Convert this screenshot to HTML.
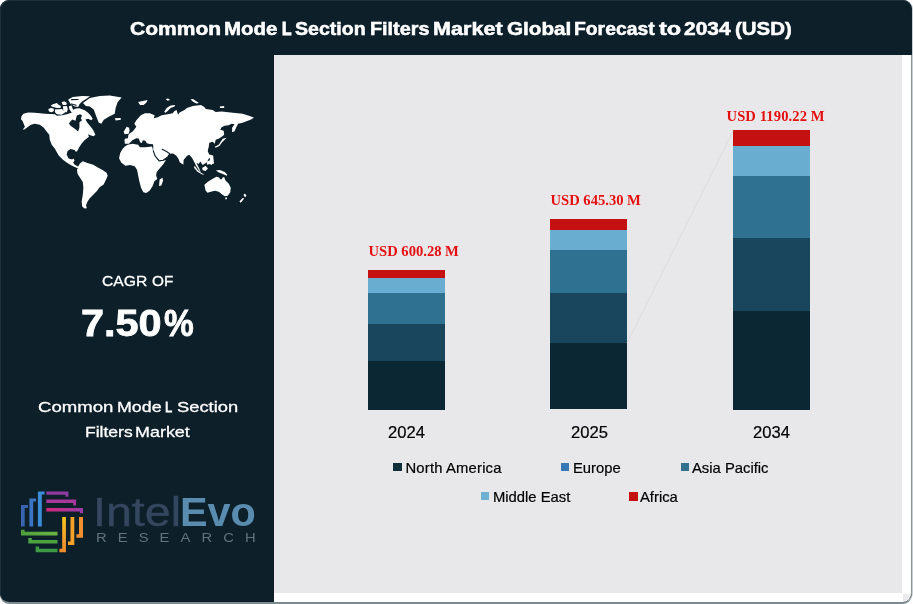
<!DOCTYPE html>
<html lang="en">
<head>
<meta charset="utf-8">
<title>Common Mode L Section Filters Market Global Forecast to 2034 (USD)</title>
<style>
html,body{margin:0;padding:0;background:#fff;}
body{width:913px;height:604px;position:relative;overflow:hidden;font-family:"Liberation Sans",sans-serif;}
#card{position:absolute;left:0;top:0;width:912px;height:602px;box-sizing:border-box;background:#0d1f29;border-radius:9px;box-shadow:inset 1px 1px 0 #1c313a, 1px 0 0 #c8cfd4, 0 2px 0 #7c8b8f;overflow:visible;}
#white{position:absolute;left:274px;top:54.5px;width:638px;height:547.5px;box-sizing:border-box;background:#fff;border-right:1px solid #8e9394;border-bottom-right-radius:9px;}
#nub{position:absolute;left:903px;top:594px;width:6px;height:7px;background:#ebebed;border-bottom-right-radius:5px;}
#plot{position:absolute;left:274px;top:54.8px;width:628.2px;height:538.6px;background:#e8e8ea;}
.t{position:absolute;white-space:nowrap;line-height:1;margin:0;}
.w{position:absolute;white-space:nowrap;line-height:1;transform-origin:0 50%;color:#fff;}
#title .w{font-weight:bold;font-size:17.5px;-webkit-text-stroke:.5px #fff;}
#cagr .w{font-size:15.4px;-webkit-text-stroke:.3px #fff;}
#pct .w{font-weight:bold;font-size:37.5px;-webkit-text-stroke:.8px #fff;}
#intel .w{font-size:40px;color:#34475f;-webkit-text-stroke:.4px #34475f;}
#evo .w{font-size:40px;font-weight:bold;color:#5a8caf;}
#research .w{font-size:13.4px;color:#63727d;}
#nm1 .w,#nm2 .w{font-size:15px;-webkit-text-stroke:.3px #fff;}
.seg{position:absolute;}
.val{color:#e60f0f;font-family:"Liberation Serif",serif;font-weight:bold;font-size:14.6px;}
.yr{color:#000;font-size:16.6px;-webkit-text-stroke:.2px #000;}
.lg{color:#000;font-size:14.8px;-webkit-text-stroke:.2px #000;}
.sw{position:absolute;width:8.3px;height:8.5px;}
</style>
</head>
<body>
<div id="card">
  <div id="white"></div>
  <div id="plot"></div>
  <div id="nub"></div>
</div>
<svg id="map" style="position:absolute;left:0;top:0" width="913" height="604" viewBox="0 0 913 604">
  <path d="M21.45 116.35 L23.44 113.87 L27.91 112.38 L34.86 112.87 L44.79 113.87 L54.93 114.19 L56.92 115.85 L62.22 115.19 L66.85 114.19 L71.49 112.87 L73.48 109.56 L76.13 108.56 L79.44 108.23 L84.74 110.22 L88.05 112.87 L90.7 115.52 L92.68 118.83 L91.36 120.15 L88.05 118.83 L85.4 119.49 L87.38 122.8 L91.36 127.44 L95.33 133.0 L92.46 129.76 L94.44 132.74 L95.44 134.72 L93.45 136.21 L90.47 135.22 L87.99 134.23 L88.98 136.71 L84.51 140.18 L81.53 143.66 L79.55 146.64 L77.56 150.61 L76.07 152.1 L74.58 150.11 L70.61 149.12 L67.63 151.11 L66.64 154.58 L68.62 158.56 L72.1 159.55 L73.59 158.56 L74.58 160.54 L73.09 162.53 L74.58 164.51 L77.07 166.0 L79.55 167.49 L78.56 168.49 L74.58 167.0 L70.61 165.01 L66.64 162.53 L62.67 159.55 L58.69 155.58 L54.72 148.62 L51.74 144.65 L49.76 139.69 L49.26 134.72 L46.78 131.74 L43.8 127.77 L39.83 124.79 L34.86 123.8 L30.89 124.79 L23.94 129.76 L22.94 129.26 L24.93 126.78 L22.45 120.82 L20.96 119.33Z M48.31 108.89 L50.96 107.9 L53.61 108.56 L53.94 110.88 L51.62 112.21 L48.97 111.54Z M50.96 105.25 L53.61 103.93 L56.92 102.93 L58.25 104.59 L60.89 105.91 L60.56 107.9 L56.92 107.9 L54.27 107.24 L51.62 106.58Z M61.56 102.27 L64.21 101.28 L66.85 102.93 L66.19 104.92 L62.88 104.92Z M62.88 106.25 L66.85 105.91 L67.85 108.89 L66.85 112.21 L64.21 112.21 L63.21 109.56Z M54.93 109.56 L62.22 108.89 L64.87 112.87 L61.56 114.85 L56.92 114.19 L54.93 112.21Z M68.84 106.25 L71.49 105.58 L72.81 108.89 L74.14 112.87 L71.49 112.21 L69.5 109.56Z M68.18 99.62 L72.81 96.97 L82.09 95.98 L90.03 96.31 L86.06 98.96 L82.09 101.61 L79.44 104.26 L78.11 106.91 L74.14 106.25 L70.17 103.6Z M82.94 102.91 L89.9 97.94 L99.83 95.96 L109.76 95.46 L121.67 97.45 L117.7 101.92 L115.71 107.87 L114.72 113.83 L108.76 116.81 L103.8 119.79 L101.32 123.76 L98.83 122.77 L96.35 116.81 L93.87 109.86 L89.9 106.39 L85.92 105.89Z M114.72 118.3 L120.68 118.0 L120.88 119.79 L115.71 120.59Z M138.06 101.92 L147.49 99.93 L146.5 102.41 L143.52 104.9 L140.04 104.9Z M123.66 131.71 L126.64 126.74 L129.12 127.74 L129.62 130.71 L128.62 133.69 L124.65 134.19Z M79.9 163.53 L82.8 161.22 L87.43 162.95 L93.23 164.69 L97.86 167.59 L102.49 169.9 L106.55 172.8 L107.7 175.7 L105.97 179.75 L103.65 184.38 L99.6 187.28 L96.7 191.33 L93.23 194.81 L89.75 198.28 L87.43 201.76 L86.04 205.23 L86.85 208.13 L84.54 208.48 L82.22 206.39 L81.64 201.76 L82.8 194.81 L83.38 187.86 L82.8 182.07 L79.9 177.43 L77.59 173.96 L77.01 169.9 L78.17 166.43Z M124.85 146.58 L127.74 144.85 L132.38 143.69 L138.17 144.85 L139.9 147.16 L145.12 147.16 L152.07 146.58 L153.23 151.22 L154.96 155.85 L157.86 159.9 L161.33 161.06 L165.97 159.9 L163.07 164.54 L159.6 168.59 L156.7 172.07 L156.12 175.54 L157.28 179.02 L154.38 181.33 L152.65 185.97 L149.75 190.6 L146.28 192.92 L143.38 192.34 L141.06 187.7 L139.33 181.33 L138.17 175.54 L137.01 169.75 L134.69 166.28 L130.06 165.12 L125.43 165.7 L121.37 162.8 L119.05 158.17 L120.21 152.95 L122.53 148.9Z M159.6 179.6 L162.49 177.86 L163.07 180.75 L161.33 185.39 L159.02 185.97Z M204.43 184.79 L207.91 181.81 L211.88 179.33 L216.35 176.85 L218.83 177.34 L220.32 179.33 L221.81 179.33 L222.81 177.34 L224.29 177.34 L225.29 180.32 L228.76 183.8 L230.75 187.77 L230.25 192.24 L227.77 195.71 L224.79 196.21 L221.81 194.23 L218.83 191.74 L214.86 190.75 L210.89 191.74 L207.41 192.74 L205.43 190.25Z M225.29 197.5 L226.98 197.5 L226.98 199.19 L225.29 199.19Z M243.66 194.23 L245.15 193.73 L246.44 195.71 L245.15 197.2 L243.86 195.71Z M239.49 201.18 L242.67 197.9 L244.16 198.5 L241.67 201.67 L240.18 202.67Z M215.85 170.39 L219.83 169.9 L224.79 171.88 L227.27 174.86 L226.78 175.85 L223.3 174.36 L218.83 172.38Z M124.43 140.18 L124.93 138.69 L127.91 138.2 L128.41 134.72 L129.9 133.23 L132.38 131.74 L134.86 128.76 L136.35 126.78 L134.36 123.8 L136.35 120.32 L140.82 115.36 L144.79 113.37 L149.76 113.37 L154.72 115.36 L153.73 118.34 L157.7 117.34 L161.67 115.36 L167.63 114.36 L172.6 113.37 L174.58 110.89 L176.57 109.9 L178.06 114.86 L179.55 112.38 L184.51 109.9 L186.92 107.91 L192.87 105.92 L200.82 104.93 L204.29 106.92 L205.78 108.9 L212.74 109.9 L215.71 111.88 L221.67 111.39 L230.61 112.38 L242.53 113.87 L250.47 116.35 L253.95 117.84 L250.47 119.83 L246.5 121.32 L242.53 122.81 L238.06 123.8 L236.07 127.77 L234.58 131.25 L232.1 132.24 L232.1 127.77 L234.58 124.29 L231.6 123.8 L228.62 125.29 L224.65 125.78 L221.67 127.27 L220.18 129.76 L223.66 130.75 L224.16 134.72 L221.67 136.71 L218.69 138.69 L215.71 139.69 L214.72 143.66 L212.74 141.67 L209.26 142.67 L208.76 146.64 L207.77 150.61 L205.78 153.59 L204.79 154.98 L204.44 154.69 L200.39 156.43 L200.97 160.48 L198.65 163.96 L196.33 162.8 L199.23 168.59 L200.97 172.65 L198.65 169.75 L196.33 166.28 L194.6 162.8 L192.28 158.17 L189.38 154.69 L187.07 155.85 L183.59 159.9 L183.38 164.8 L179.74 162.15 L178.41 158.84 L176.09 155.53 L173.11 153.54 L169.47 153.87 L167.81 156.85 L163.18 160.3 L159.21 160.83 L155.23 156.19 L153.25 150.89 L153.25 145.6 L152.99 144.27 L149.75 144.04 L146.85 143.34 L145.35 140.79 L142.8 140.21 L141.87 143.11 L140.25 142.53 L138.75 138.48 L136.43 138.24 L132.38 140.21 L128.9 143.69 L124.85 143.69 L124.5 140.21Z M214.72 146.64 L218.69 144.65 L220.68 141.67 L222.67 138.69 L226.64 137.7 L224.65 139.69 L221.67 142.67 L219.69 145.65 L215.71 147.63Z M164.16 111.88 L166.64 107.91 L170.61 105.43 L175.08 104.93 L174.58 106.42 L170.61 107.91 L167.63 110.89 L165.65 112.87Z M165.65 98.97 L168.13 98.48 L170.11 99.97 L167.63 100.76Z M190.47 99.47 L192.95 98.97 L198.91 102.94 L196.43 103.44 L193.45 101.95Z M219.69 106.42 L224.16 106.12 L224.16 107.91 L220.18 108.11Z M206.76 161.64 L210.23 159.9 L212.55 162.22 L211.97 165.12 L209.08 163.96 L207.34 165.12Z M202.13 168.01 L205.6 165.7 L207.92 168.59 L205.6 170.91 L202.7 170.33Z M194.6 165.7 L197.49 169.75 L200.97 172.65 L204.44 174.38 L202.13 174.62 L197.49 171.84 L194.02 167.67Z M198.68 152.62 L207.62 150.63 L210.0 156.59 L206.63 162.55 L202.65 164.94 L199.67 160.57Z M209.21 154.61 L213.18 155.6 L213.98 163.55 L210.6 164.54Z" fill="#fff"/>
  <path d="M68.84 123.46 L72.15 119.49 L75.46 120.81 L76.79 115.52 L80.1 114.19 L82.09 115.52 L80.76 118.17 L82.09 120.15 L79.44 122.14 L79.44 127.44 L78.11 131.41 L74.8 128.76 L70.83 126.11Z" fill="#0d1f29"/>
  <path d="M71.49 99.62 L78.11 99.49" fill="none" stroke="#0d1f29" stroke-width="1.1" stroke-linecap="round" stroke-linejoin="round"/><path d="M71.49 103.93 L76.13 105.25" fill="none" stroke="#0d1f29" stroke-width="1.1" stroke-linecap="round" stroke-linejoin="round"/><path d="M153.25 150.89 L155.23 156.19 L159.21 160.83 L163.18 160.3 L167.81 156.85 L169.47 154.21" fill="none" stroke="#0d1f29" stroke-width="1.1" stroke-linecap="round" stroke-linejoin="round"/><path d="M162.19 149.24 L166.49 151.56 L169.47 153.41" fill="none" stroke="#0d1f29" stroke-width="1.1" stroke-linecap="round" stroke-linejoin="round"/>
</svg>

<!-- sidebar text -->
<div id="cagr"><span class="w" style="left:102.19px;top:273.00px;transform:scaleX(1.0186);">CAGR</span> <span class="w" style="left:151.70px;top:273.00px;transform:scaleX(0.9950);">OF</span></div>
<div id="pct"><span class="w" style="left:81.00px;top:305.00px;transform:scaleX(1.1048);">7.50</span><span class="w" style="left:163.62px;top:305.00px;transform:scaleX(0.8921);">%</span></div>
<div id="nm1"><span class="w" style="left:37.62px;top:399.00px;transform:scaleX(1.2381);">Common</span> <span class="w" style="left:117.37px;top:399.00px;transform:scaleX(1.1874);">Mode</span> <span class="w" style="left:165.22px;top:399.00px;transform:scaleX(0.8604);-webkit-text-stroke:.8px #fff;">L</span> <span class="w" style="left:176.73px;top:399.00px;transform:scaleX(1.2207);">Section</span></div>
<div id="nm2"><span class="w" style="left:84.59px;top:424.00px;transform:scaleX(1.1667);">Filters</span> <span class="w" style="left:134.66px;top:424.00px;transform:scaleX(1.1955);">Market</span></div>

<!-- logo -->
<svg id="logo" style="position:absolute;left:0;top:0" width="913" height="604" viewBox="0 0 913 604">
  <defs>
    <linearGradient id="gy" x1="0" y1="0" x2="0" y2="1"><stop offset="0" stop-color="#f8c620"/><stop offset="1" stop-color="#f08a2e"/></linearGradient>
    <linearGradient id="gp" x1="0" y1="0" x2="1" y2="0"><stop offset="0" stop-color="#d02a7c"/><stop offset="1" stop-color="#9a3aa8"/></linearGradient>
    <linearGradient id="gg" x1="0" y1="0" x2="1" y2="0"><stop offset="0" stop-color="#4ea03c"/><stop offset="1" stop-color="#6ab344"/></linearGradient>
  </defs>
  <!-- blue -->
  <path d="M21 505H28V508H24.7V526.5H21Z" fill="#3a63b0"/>
  <path d="M29.4 498.4H36V501.4H33.2V526.5H29.4Z" fill="#3b74c2"/>
  <path d="M37.9 491.4H44.6V494.4H41.8V526.5H37.9Z" fill="#3a8dd6"/>
  <!-- purple -->
  <path d="M46.3 491.4H68.4V496.8H65.5V494.8H46.3Z" fill="#8e3ca2"/>
  <path d="M46.3 499.5H76.1V505.6H73.2V503H46.3Z" fill="#a8389c"/>
  <path d="M46.3 508H83V513.3H79.9V511.6H46.3Z" fill="url(#gp)"/>
  <!-- orange -->
  <path d="M62.2 517H65.9V552.3H59.4V548.8H62.2Z" fill="url(#gy)"/>
  <path d="M70.5 517H74.3V545.1H68V541.6H70.5Z" fill="#f5a028"/>
  <path d="M79 517H83V537.8H76.4V534.3H79Z" fill="#f29030"/>
  <!-- green -->
  <path d="M21 529.8H24.6V531.8H57.5V535.4H21Z" fill="url(#gg)"/>
  <path d="M28.3 538H31.8V540.1H57.5V543.6H28.3Z" fill="#4da242"/>
  <path d="M35.6 546.6H39.1V548.7H57.5V552.3H35.6Z" fill="#3d9a46"/>
</svg>
<div id="intel"><span class="w" style="left:92.83px;top:492.00px;transform:scaleX(1.1646);">Intel</span></div>
<div id="evo"><span class="w" style="left:180.18px;top:492.00px;transform:scaleX(1.0344);">Evo</span></div>
<div id="research"><span class="w" style="left:95.96px;top:531.00px;transform:scaleX(1.1051);letter-spacing:10.0px;">RESEARCH</span></div>

<!-- bars -->
<div id="bars">
  <div class="seg" style="left:368px;top:269.5px;width:77px;height:8.5px;background:#c41010"></div>
  <div class="seg" style="left:368px;top:278px;width:77px;height:14.5px;background:#69aed1"></div>
  <div class="seg" style="left:368px;top:292.5px;width:77px;height:31.5px;background:#2e7191"></div>
  <div class="seg" style="left:368px;top:324px;width:77px;height:37px;background:#19465c"></div>
  <div class="seg" style="left:368px;top:361px;width:77px;height:48.5px;background:#0b2733"></div>

  <div class="seg" style="left:549.5px;top:219px;width:77.5px;height:10.7px;background:#c41010"></div>
  <div class="seg" style="left:549.5px;top:229.7px;width:77.5px;height:20.3px;background:#69aed1"></div>
  <div class="seg" style="left:549.5px;top:250px;width:77.5px;height:42.8px;background:#2e7191"></div>
  <div class="seg" style="left:549.5px;top:292.8px;width:77.5px;height:50.6px;background:#19465c"></div>
  <div class="seg" style="left:549.5px;top:343.4px;width:77.5px;height:66.1px;background:#0b2733"></div>

  <div class="seg" style="left:732.5px;top:130px;width:77.5px;height:16.3px;background:#c41010"></div>
  <div class="seg" style="left:732.5px;top:146.3px;width:77.5px;height:29.3px;background:#69aed1"></div>
  <div class="seg" style="left:732.5px;top:175.6px;width:77.5px;height:62.1px;background:#2e7191"></div>
  <div class="seg" style="left:732.5px;top:237.7px;width:77.5px;height:73.6px;background:#19465c"></div>
  <div class="seg" style="left:732.5px;top:311.3px;width:77.5px;height:98.5px;background:#0b2733"></div>
</div>
<svg style="position:absolute;left:0;top:0" width="913" height="604" viewBox="0 0 913 604"><path d="M627 343 L733 131" stroke="#dcdcde" stroke-width="1" fill="none"/></svg>

<div class="t val" style="left:368.5px;top:243.5px;">USD 600.28 M</div>
<div class="t val" style="left:550.5px;top:193px;">USD 645.30 M</div>
<div class="t val" style="left:726.5px;top:108.5px;letter-spacing:.1px;">USD 1190.22 M</div>

<div class="t yr" style="left:388px;top:425.1px;">2024</div>
<div class="t yr" style="left:571px;top:425.1px;">2025</div>
<div class="t yr" style="left:753px;top:424.6px;">2034</div>

<!-- legend -->
<div class="sw" style="left:393.3px;top:462.7px;background:#0f2f38"></div>
<div class="t lg" style="left:405.5px;top:461.1px;letter-spacing:.18px;">North America</div>
<div class="sw" style="left:561px;top:462.5px;background:#3878b4"></div>
<div class="t lg" style="left:573px;top:461.1px;">Europe</div>
<div class="sw" style="left:681.2px;top:462.5px;background:#33728f"></div>
<div class="t lg" style="left:692px;top:461.1px;">Asia Pacific</div>
<div class="sw" style="left:480.8px;top:491.8px;background:#6fb0d2"></div>
<div class="t lg" style="left:493px;top:490.1px;">Middle East</div>
<div class="sw" style="left:629.3px;top:492px;background:#c41010"></div>
<div class="t lg" style="left:640px;top:490.1px;">Africa</div>
<div id="title"><span class="w" style="left:129.95px;top:21.00px;transform:scaleX(1.2014);">Common</span> <span class="w" style="left:223.93px;top:21.00px;transform:scaleX(1.1705);">Mode</span> <span class="w" style="left:281.51px;top:21.00px;transform:scaleX(0.8778);-webkit-text-stroke:1.2px #fff;">L</span> <span class="w" style="left:295.49px;top:21.00px;transform:scaleX(1.1181);">Section</span> <span class="w" style="left:370.18px;top:21.00px;transform:scaleX(1.1319);">Filters</span> <span class="w" style="left:433.16px;top:21.00px;transform:scaleX(1.2336);">Market</span> <span class="w" style="left:506.56px;top:21.00px;transform:scaleX(1.1810);">Global</span> <span class="w" style="left:573.91px;top:21.00px;transform:scaleX(1.1044);">Forecast</span> <span class="w" style="left:658.61px;top:21.00px;transform:scaleX(1.3484);">to</span> <span class="w" style="left:684.20px;top:21.00px;transform:scaleX(1.1974);">2034</span> <span class="w" style="left:735.23px;top:21.00px;transform:scaleX(1.1669);">(USD)</span></div>
</body>
</html>
